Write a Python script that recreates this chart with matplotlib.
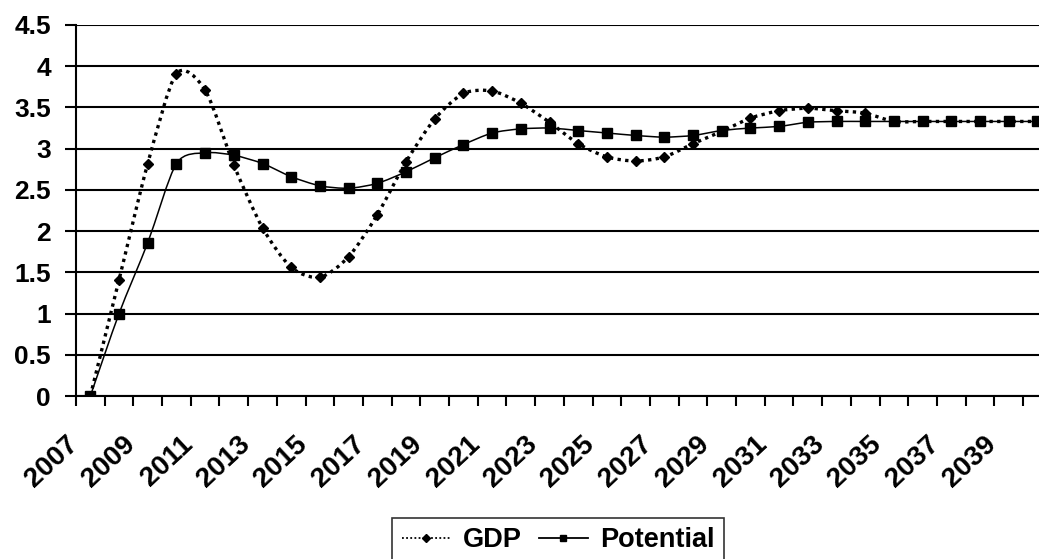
import numpy as np
import matplotlib
matplotlib.use("Agg")
import matplotlib.pyplot as plt
from matplotlib.path import Path
from matplotlib.patches import PathPatch
from matplotlib.lines import Line2D
from matplotlib.transforms import ScaledTranslation

plt.rcParams["font.family"] = ["Liberation Sans", "DejaVu Sans"]
plt.rcParams["font.weight"] = "bold"

years = list(range(2007, 2041))
gdp = [0.0, 1.41, 2.82, 3.91, 3.71, 2.80, 2.04, 1.56, 1.44, 1.69,
       2.20, 2.84, 3.36, 3.67, 3.70, 3.55, 3.32, 3.06, 2.90, 2.85,
       2.90, 3.06, 3.21, 3.37, 3.46, 3.49, 3.46, 3.43, 3.33, 3.33,
       3.33, 3.33, 3.33, 3.33]
potential = [0.0, 1.00, 1.86, 2.82, 2.95, 2.92, 2.82, 2.66, 2.55, 2.52,
             2.58, 2.72, 2.89, 3.05, 3.19, 3.24, 3.25, 3.22, 3.19, 3.16,
             3.14, 3.16, 3.22, 3.25, 3.27, 3.32, 3.33, 3.33, 3.33, 3.33,
             3.33, 3.33, 3.33, 3.33]
y_ticks = [0, 0.5, 1, 1.5, 2, 2.5, 3, 3.5, 4, 4.5]


def smooth_path(xs, ys, k=7.5):
    # smoothed line like excel: catmull-rom segments as cubic beziers
    pts = np.column_stack([xs, ys]).astype(float)
    verts = [pts[0]]
    codes = [Path.MOVETO]
    n = len(pts)
    for i in range(n - 1):
        p0 = pts[max(i - 1, 0)]
        p1 = pts[i]
        p2 = pts[i + 1]
        p3 = pts[min(i + 2, n - 1)]
        verts += [p1 + (p2 - p0) / k, p2 - (p3 - p1) / k, p2]
        codes += [Path.CURVE4] * 3
    return Path(verts, codes)


W, H = 1039, 559
fig = plt.figure(figsize=(W / 100, H / 100), dpi=100)
ax = fig.add_axes([76 / W, (H - 396) / H, (W - 76) / W, 371 / H])

x = np.arange(len(years))
gdp_ls = (0, (1, 1.3))

ax.add_patch(PathPatch(smooth_path(x, gdp), fill=False, zorder=3, edgecolor="black",
                       linestyle=gdp_ls, linewidth=2.4, capstyle="butt"))
ax.add_patch(PathPatch(smooth_path(x, potential), fill=False, zorder=3,
                       edgecolor="black", linestyle="-", linewidth=1.1))
ax.plot(x, gdp, linestyle="none", marker="D", markersize=5.5, color="black", zorder=4)
ax.plot(x, potential, linestyle="none", marker="s", markersize=6.5, color="black", zorder=4)

ax.set_yticks(y_ticks)
ax.set_yticklabels([f"{v:g}" for v in y_ticks], fontsize=19, fontweight="bold")
ax.yaxis.grid(True, color="black", linewidth=1.5)
ax.set_axisbelow(True)
ax.tick_params(axis="y", length=8, width=1.5, direction="out", pad=10)

# tick marks between categories, year labels drawn as texts a bit left of each category
ax.set_xticks(np.arange(-0.5, len(years), 1))
ax.set_xticklabels([])
ax.tick_params(axis="x", length=7.5, width=1.5, direction="out")
shift = ScaledTranslation(-25 / 100, -35 / 100, fig.dpi_scale_trans)
for i in x[::2]:
    ax.text(i, 0, str(years[i]), transform=ax.get_xaxis_transform() + shift,
            rotation=43, rotation_mode="anchor", ha="right", va="top",
            fontsize=20, fontweight="bold", clip_on=False)

ax.set_xlim(-0.5, -0.5 + (W - 76) / 28.7)
ax.set_ylim(0, 4.5)

for side in ["top", "right"]:
    ax.spines[side].set_visible(False)
for side in ["left", "bottom"]:
    ax.spines[side].set_linewidth(1.5)

handles = [
    Line2D([], [], marker="D", markersize=4, markerfacecolor="black",
           color="black", linestyle=gdp_ls, linewidth=1.3, label="GDP"),
    Line2D([], [], marker="s", markersize=4.5, color="black",
           linestyle="-", linewidth=1.3, label="Potential"),
]
leg = fig.legend(handles=handles, loc="upper center",
                 bbox_to_anchor=(558 / W, 1 - 518 / H),
                 ncol=2, frameon=True, fancybox=False, edgecolor="black",
                 prop={"size": 19.5, "weight": "bold"}, handlelength=1.8,
                 columnspacing=0.65, handletextpad=0.45, borderpad=0.35,
                 borderaxespad=0)
leg.get_frame().set_linewidth(1.2)

fig.savefig("out.png", dpi=100)
